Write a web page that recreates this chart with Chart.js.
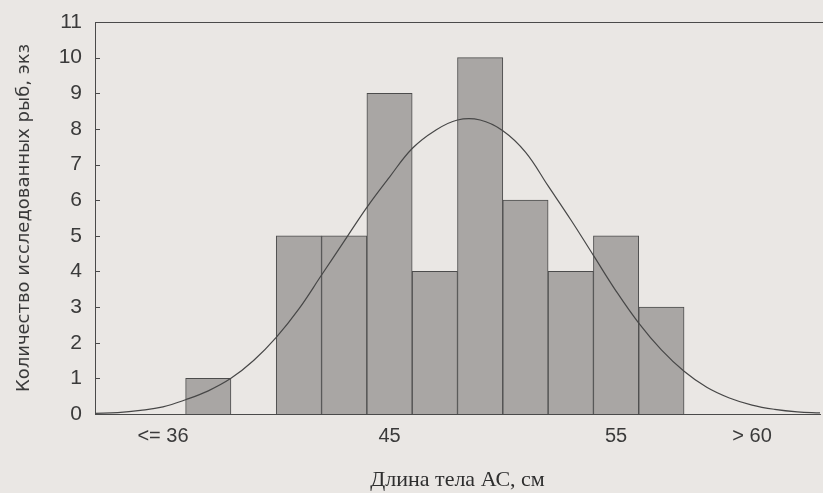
<!DOCTYPE html>
<html>
<head>
<meta charset="utf-8">
<script src="https://cdn.jsdelivr.net/npm/chart.js@4"></script>
<style>
  html, body { margin: 0; padding: 0; background: #eae7e4; }
  #wrap { width: 823px; height: 493px; }
</style>
</head>
<body>
<div id="wrap"><canvas id="canvas" width="823" height="493"></canvas></div>
<script>
// histogram bins (2 cm each), only some of them are labelled on the axis
const categories = ['', '<= 36', '', '', '', '', '45', '', '', '', '', '55', '', '', '> 60', ''];
const counts = [0, 0, 1, 0, 5, 5, 9, 4, 10, 6, 4, 5, 3, 0, 0, 0];

// fitted normal curve at every half bin (x in bin units)
const curveX = [0, 0.5, 1, 1.5, 2, 2.5, 3, 3.5, 4, 4.5, 5, 5.5, 6, 6.5, 7, 7.5, 8,
                8.5, 9, 9.5, 10, 10.5, 11, 11.5, 12, 12.5, 13, 13.5, 14, 14.5, 15, 15.5, 16];
const curveY = [0.02, 0.04, 0.1, 0.2, 0.4, 0.65, 1.0, 1.5, 2.15, 2.95, 3.9, 4.85, 5.8, 6.65, 7.45, 7.95, 8.25,
                8.25, 7.95, 7.35, 6.4, 5.45, 4.45, 3.45, 2.55, 1.8, 1.2, 0.75, 0.45, 0.25, 0.13, 0.06, 0.03];

const yTicks = [0, 1, 2, 3, 4, 5, 6, 7, 8, 9, 10, 11];

const plugin = {
  id: 'paperFrame',
  beforeDraw: (chart) => {
    const {ctx} = chart;
    ctx.save();
    ctx.fillStyle = '#eae7e4';
    ctx.fillRect(0, 0, chart.width, chart.height);
    ctx.restore();
  },
  afterDraw: (chart) => {
    const {ctx, chartArea} = chart;
    const y = chart.scales.y;
    ctx.save();
    ctx.strokeStyle = '#4a4a4a';
    ctx.lineWidth = 1;
    // top frame line runs out to the page edge
    ctx.beginPath();
    ctx.moveTo(chartArea.left, Math.round(chartArea.top) + 0.5);
    ctx.lineTo(chart.width, Math.round(chartArea.top) + 0.5);
    ctx.stroke();
    // small inward ticks on the value axis
    yTicks.forEach((v) => {
      const py = Math.round(y.getPixelForValue(v)) + 0.5;
      ctx.beginPath();
      ctx.moveTo(chartArea.left, py);
      ctx.lineTo(chartArea.left + 5, py);
      ctx.stroke();
    });
    ctx.restore();
  }
};

chart = new Chart(document.getElementById('canvas').getContext('2d'), {
  type: 'bar',
  data: {
    labels: categories,
    datasets: [{
      type: 'line',
      data: curveX.map((x, i) => ({x: x, y: curveY[i]})),
      xAxisID: 'x2',
      borderColor: '#474747',
      borderWidth: 1.2,
      pointRadius: 0,
      tension: 0.4,
      fill: false,
      order: 0
    }, {
      data: counts,
      xAxisID: 'x',
      backgroundColor: '#a9a6a4',
      borderColor: '#4c4c4c',
      borderWidth: 1,
      barPercentage: 1,
      categoryPercentage: 1,
      grouped: false,
      order: 1
    }]
  },
  options: {
    responsive: false,
    animation: false,
    layout: {
      padding: {top: 22, right: 3, bottom: 0, left: 0}
    },
    plugins: {
      legend: {display: false},
      tooltip: {enabled: false}
    },
    scales: {
      x: {
        grid: {display: false, drawTicks: false},
        border: {display: true, color: '#4a4a4a', width: 1},
        ticks: {
          autoSkip: false,
          maxRotation: 0,
          padding: 10,
          color: '#3a3a3a',
          font: {family: 'Liberation Sans', size: 20}
        },
        title: {
          display: true,
          text: 'Длина тела АС, см',
          color: '#2e2e2e',
          font: {family: 'Liberation Serif', size: 22},
          padding: {top: 0, bottom: 0}
        },
        afterFit: (s) => { s.height = 79; }
      },
      x2: {
        type: 'linear',
        display: false,
        offset: false,
        min: 0,
        max: 16
      },
      y: {
        min: 0,
        max: 11,
        grid: {display: false, drawTicks: false},
        border: {display: true, color: '#4a4a4a', width: 1},
        ticks: {
          stepSize: 1,
          padding: 13,
          color: '#3a3a3a',
          font: {family: 'Liberation Sans', size: 21}
        },
        title: {
          display: true,
          text: 'Количество исследованных рыб, экз',
          color: '#3a3a3a',
          font: {family: 'DejaVu Sans', size: 18},
          padding: {top: 14, bottom: 0}
        },
        afterFit: (s) => {
          s.width = 95;
          s.paddingTop = 0;
          s.paddingBottom = 0;
        }
      }
    }
  },
  plugins: [plugin]
});
</script>
</body>
</html>
